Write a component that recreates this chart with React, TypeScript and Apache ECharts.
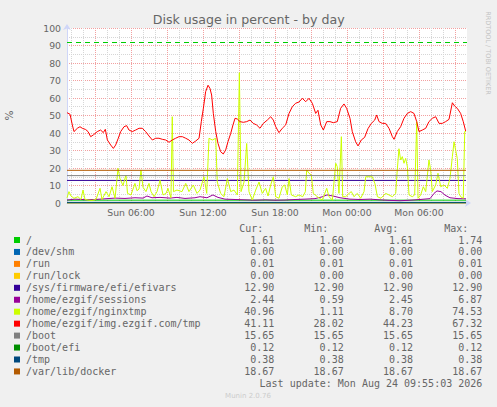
import React, { useEffect, useRef } from "react";
import * as echarts from "echarts";

const chartTitle = "Disk usage in percent - by day";
const xStart = 0.6667; // hours since Sun 00:00
const xEnd = 34;
const xDataEnd = 33.92;
const labelHours = [6, 12, 18, 24, 30];
const tickLabels = ["Sun 06:00", "Sun 12:00", "Sun 18:00", "Mon 00:00", "Mon 06:00"];
const majorHours = [3, 6, 9, 12, 15, 18, 21, 24, 27, 30, 33];
const minorHours = [1, 2, 4, 5, 7, 8, 10, 11, 13, 14, 16, 17, 19, 20, 22, 23, 25, 26, 28, 29, 31, 32];
const warningLevel = 92;

const names = [
  "/",
  "/dev/shm",
  "/run",
  "/run/lock",
  "/sys/firmware/efi/efivars",
  "/home/ezgif/sessions",
  "/home/ezgif/nginxtmp",
  "/home/ezgif/img.ezgif.com/tmp",
  "/boot",
  "/boot/efi",
  "/tmp",
  "/var/lib/docker",
];
const colors = [
  "#00CC00", "#0066B3", "#FF8000", "#FFCC00", "#330099", "#990099",
  "#CCFF00", "#FF0000", "#808080", "#008F00", "#00487D", "#B35A00",
];
const curValues = [1.61, 0.0, 0.01, 0.0, 12.9, 2.44, 40.96, 41.11, 15.65, 0.12, 0.38, 18.67];
const minValues = [1.6, 0.0, 0.01, 0.0, 12.9, 0.59, 1.11, 28.02, 15.65, 0.12, 0.38, 18.67];
const avgValues = [1.61, 0.0, 0.01, 0.0, 12.9, 2.45, 8.7, 44.23, 15.65, 0.12, 0.38, 18.67];
const maxValues = [1.74, 0.0, 0.01, 0.0, 12.9, 6.87, 74.53, 67.32, 15.65, 0.12, 0.38, 18.67];
const lastUpdate = "Last update: Mon Aug 24 09:55:03 2026";
const version = "Munin 2.0.76";
const watermark = "RRDTOOL / TOBI OETIKER";

// [hour, percent]
const sessionsPoints: [number, number][] = [
  [0.67, 1.7], [1.33, 2.2], [2.17, 1.9], [3.0, 2.0], [3.83, 2.4], [4.67, 2.8], [5.5, 2.6],
  [6.33, 3.0], [7.0, 2.8], [7.33, 4.0], [7.75, 3.0], [8.42, 3.2], [9.25, 2.8], [9.83, 3.2],
  [10.5, 2.6], [11.33, 3.0], [11.75, 3.6], [12.33, 3.0], [12.83, 4.6], [13.25, 3.2], [13.83, 2.2],
  [14.67, 2.0], [15.5, 1.8], [16.33, 1.6], [17.17, 1.8], [18.0, 1.6], [18.83, 1.7], [19.67, 2.0],
  [20.5, 2.2], [21.33, 2.5], [21.92, 3.5], [22.33, 4.6], [22.83, 4.0], [23.42, 3.0], [24.25, 2.2],
  [25.08, 2.0], [25.92, 2.2], [26.75, 1.8], [27.58, 1.5], [28.42, 1.3], [29.25, 1.6], [30.08, 2.0],
  [30.92, 2.5], [31.25, 5.5], [31.5, 6.9], [31.83, 6.5], [32.17, 4.5], [32.58, 3.0], [33.25, 2.5],
  [33.92, 2.4],
];

const nginxPoints: [number, number][] = [
  [0.67, 3], [0.83, 6.5], [1.0, 4], [1.25, 2.7], [1.58, 3.6], [1.83, 2], [2.0, 7.4], [2.17, 2],
  [2.42, 1.7], [2.75, 1.5], [3.08, 2], [3.42, 8.4], [3.58, 2], [3.92, 6.5], [4.17, 3.6], [4.42, 9.3],
  [4.67, 2.7], [4.92, 19.8], [5.08, 14], [5.33, 10], [5.58, 16], [5.71, 5.5], [6.0, 4.6], [6.33, 11.2],
  [6.5, 7], [6.67, 8], [6.83, 18.9], [7.0, 9], [7.25, 6.5], [7.5, 11.2], [7.67, 6.5], [7.92, 3.6],
  [8.17, 6.5], [8.42, 13], [8.67, 4.6], [8.92, 5.5], [9.08, 8.4], [9.33, 3], [9.44, 49.3], [9.54, 6.5],
  [9.83, 7.4], [10.25, 6.5], [10.56, 11.2], [10.83, 6.5], [11.19, 10.3], [11.5, 5.5], [11.75, 7.4],
  [12.08, 15], [12.31, 5.5], [12.5, 37], [12.78, 36], [13.06, 37], [13.19, 12], [13.47, 5.5],
  [13.75, 3.6], [14.03, 14], [14.31, 6.5], [14.58, 7.4], [14.86, 4.6], [15.03, 74.5], [15.17, 6.5],
  [15.42, 12], [15.64, 34], [15.83, 6.5], [16.11, 1.7], [16.39, 7.4], [16.67, 12], [16.94, 5.5],
  [17.22, 8.4], [17.42, 4], [17.64, 10.3], [17.86, 15], [18.06, 3.6], [18.33, 2.7], [18.61, 9.3],
  [18.81, 10.3], [19.03, 4.6], [19.17, 14], [19.36, 4.6], [19.72, 3.6], [20.0, 4.6], [20.31, 3.6],
  [20.53, 6.5], [20.64, 18.9], [20.83, 17], [21.03, 16], [21.19, 5.5], [21.53, 3.6], [21.94, 1.7],
  [22.31, 8.4], [22.5, 3.6], [22.78, 1.7], [23.06, 22.7], [23.19, 20.8], [23.33, 5.5], [23.53, 37.9],
  [23.64, 3.6], [23.89, 3.6], [24.17, 5.5], [24.36, 6.5], [24.58, 3.6], [24.86, 5.5], [25.14, 2.7],
  [25.42, 6.5], [25.56, 15], [25.83, 15], [26.11, 15], [26.33, 11], [26.53, 3.6], [26.83, 2.7],
  [27.22, 5.5], [27.5, 4.6], [27.78, 3.6], [28.06, 5.5], [28.19, 18.9], [28.33, 31], [28.47, 24.6],
  [28.61, 26.5], [28.75, 22.7], [28.89, 25.5], [29.03, 20.8], [29.17, 4.6], [29.44, 3.6], [29.64, 4.6],
  [29.81, 46.5], [29.92, 2.7], [30.14, 4.6], [30.36, 9.3], [30.56, 6.5], [30.83, 24.6], [30.97, 19],
  [31.11, 6.5], [31.39, 10.3], [31.58, 17], [31.81, 9.3], [32.08, 10.3], [32.36, 8.4], [32.58, 14],
  [32.78, 26.5], [32.92, 35], [33.06, 30], [33.19, 25.5], [33.33, 5.5], [33.47, 3.6], [33.69, 2.7],
  [33.81, 40.8], [33.92, 41],
];

const imgPoints: [number, number][] = [
  [0.67, 51.6], [0.92, 50.7], [1.11, 44.6], [1.25, 40.8], [1.53, 42.7], [1.75, 43.6], [1.94, 42.7],
  [2.22, 42], [2.42, 40.8], [2.64, 37.9], [2.86, 38.9], [3.19, 40.8], [3.47, 41.7], [3.69, 40.2],
  [3.86, 42.1], [4.03, 36], [4.31, 33.1], [4.53, 31.2], [4.72, 33.1], [4.94, 37], [5.14, 40.8],
  [5.42, 43.6], [5.64, 44.2], [5.83, 41.7], [6.11, 40.8], [6.39, 41.7], [6.67, 42.7], [6.94, 42.7],
  [7.22, 40.8], [7.5, 38.3], [7.78, 36], [8.06, 37], [8.33, 37], [8.61, 36.4], [8.89, 36],
  [9.17, 34.7], [9.44, 36], [9.72, 37], [10.0, 37.9], [10.28, 37.9], [10.56, 37], [10.83, 36],
  [11.11, 34.1], [11.39, 35.4], [11.67, 37], [11.86, 46.5], [12.03, 54.1], [12.22, 63.6], [12.42, 67.3],
  [12.58, 65.5], [12.72, 61.7], [12.86, 51.2], [13.06, 40.8], [13.25, 34.1], [13.47, 29.3], [13.69, 28.0],
  [13.89, 30.3], [14.08, 35], [14.31, 39.8], [14.5, 44.6], [14.67, 48.4], [14.86, 48], [15.08, 46.5],
  [15.36, 46.1], [15.64, 46.5], [15.92, 47.4], [16.19, 45.5], [16.47, 44.6], [16.75, 42.7], [17.03, 45.5],
  [17.36, 47.4], [17.64, 49.3], [17.86, 47.4], [18.06, 43.6], [18.33, 40.2], [18.61, 42.7], [18.89, 44.6],
  [19.17, 51.2], [19.44, 55], [19.72, 57], [20.0, 57.7], [20.28, 59.8], [20.56, 57.9], [20.83, 59.8],
  [21.11, 57], [21.39, 51.2], [21.58, 53], [21.81, 44.6], [22.03, 41.7], [22.31, 46.5], [22.58, 46.5],
  [22.86, 45.9], [23.19, 46.5], [23.47, 54.1], [23.75, 56.6], [23.97, 54.1], [24.25, 48.4], [24.44, 40.8],
  [24.72, 35], [24.92, 32.6], [25.19, 36], [25.47, 37.5], [25.75, 42.5], [26.03, 45.5], [26.31, 47.4],
  [26.47, 50.3], [26.67, 46.5], [26.94, 45.5], [27.22, 45.5], [27.5, 42.7], [27.78, 37.9], [27.92, 36.4],
  [28.19, 40.8], [28.47, 43.6], [28.75, 48.4], [29.03, 51.2], [29.31, 52.2], [29.58, 51.2], [29.81, 46.5],
  [30.0, 40.8], [30.28, 41.7], [30.56, 42.7], [30.83, 46.5], [31.11, 48.4], [31.39, 49.3], [31.67, 45.5],
  [31.94, 45.5], [32.22, 46.5], [32.5, 47.8], [32.78, 57.3], [32.97, 55.4], [33.19, 54.1], [33.47, 51.2],
  [33.69, 46.5], [33.89, 41.1],
];

const seriesPoints: Record<string, [number, number][]> = {
  "/home/ezgif/sessions": sessionsPoints,
  "/home/ezgif/nginxtmp": nginxPoints,
  "/home/ezgif/img.ezgif.com/tmp": imgPoints,
};

const FONT = "#666666";
const MONO = '"DejaVu Sans Mono", monospace';
const SANS = '"DejaVu Sans", sans-serif';

function rowY(i: number) {
  return 240 + i * 11.95;
}

function txt(text: string, x: number, y: number, align: string, font: string, fill = FONT, extra: any = {}) {
  return {
    type: "text",
    x,
    y,
    silent: true,
    ...extra,
    style: {
      text,
      font,
      fill,
      align,
      textAlign: align,
      verticalAlign: "middle",
      textVerticalAlign: "middle",
    },
  };
}

export default function App() {
  const ref = useRef<HTMLDivElement>(null);
  useEffect(() => {
    if (!ref.current) return;
    const chart = echarts.init(ref.current, undefined, { renderer: "svg" });

    const series: any[] = names.map((name, i) => {
      const pts = seriesPoints[name] || [
        [xStart, curValues[i]],
        [xDataEnd, curValues[i]],
      ];
      const s: any = {
        name,
        type: "line",
        data: pts,
        showSymbol: false,
        symbol: "none",
        lineStyle: { color: colors[i], width: 1 },
        itemStyle: { color: colors[i] },
        silent: true,
        z: 2 + i,
      };
      if (i === 0) {
        s.markLine = {
          silent: true,
          symbol: "none",
          label: { show: false },
          lineStyle: { color: "#00CC00", type: [5, 4], width: 1 },
          data: [{ yAxis: warningLevel }],
        };
      }
      return s;
    });

    const gridLine = (color: string) => ({ show: true, lineStyle: { color, type: [1, 1], width: 1 } });
    const axisLineStyle = {
      show: true,
      onZero: false,
      lineStyle: { color: "#CFD6F8", width: 1 },
      symbol: ["none", "arrow"],
      symbolSize: [6, 6],
      symbolOffset: [0, 4],
    };

    const graphic: any[] = [];
    graphic.push(txt(chartTitle, 248.7, 19, "center", `12.6px ${SANS}`, FONT));
    graphic.push(
      txt(watermark, 488, 53, "center", `6.5px ${SANS}`, "#c4c4c4", { rotation: -Math.PI / 2 })
    );
    const headerX = [239.3, 304.3, 374.3, 444.3];
    ["Cur:", "Min:", "Avg:", "Max:"].forEach((h, k) =>
      graphic.push(txt(h, headerX[k], rowY(-1), "left", `10px ${MONO}`))
    );
    const colRight = [274.3, 343.7, 413, 482.3];
    const cols = [curValues, minValues, avgValues, maxValues];
    names.forEach((name, i) => {
      const y = rowY(i);
      graphic.push({
        type: "rect",
        silent: true,
        shape: { x: 14, y: y - 3, width: 6, height: 6 },
        style: { fill: colors[i] },
      });
      graphic.push(txt(name, 26, y, "left", `10px ${MONO}`));
      cols.forEach((col, k) => graphic.push(txt(col[i].toFixed(2), colRight[k], y, "right", `10px ${MONO}`)));
    });
    graphic.push(txt(lastUpdate, 482.3, rowY(12), "right", `10px ${MONO}`));
    graphic.push(txt(version, 248, 396, "center", `7px ${SANS}`, "#cccccc"));

    chart.setOption({
      animation: false,
      backgroundColor: "#F0F0F0",
      grid: {
        left: 67,
        top: 28,
        width: 400,
        height: 175,
        show: true,
        backgroundColor: "#FFFFFF",
        borderWidth: 0,
        containLabel: false,
        outerBoundsMode: "none",
      },
      xAxis: [
        {
          type: "value",
          min: xStart,
          max: xEnd,
          position: "bottom",
          axisLine: axisLineStyle,
          axisTick: { show: false, customValues: majorHours },
          axisLabel: {
            customValues: labelHours,
            formatter: (v: number) => tickLabels[labelHours.indexOf(Math.round(v))] || "",
            color: FONT,
            fontSize: 9.3,
            fontFamily: SANS,
            margin: 5,
          },
          splitLine: gridLine("#F2A0A0"),
          z: 1,
        },
        {
          type: "value",
          min: xStart,
          max: xEnd,
          position: "top",
          axisLine: { show: false },
          axisTick: { show: false, customValues: minorHours },
          axisLabel: { show: false },
          splitLine: gridLine("#D6D6D6"),
          z: 0,
        },
      ],
      yAxis: {
        type: "value",
        min: 0,
        max: 100,
        interval: 10,
        axisLine: axisLineStyle,
        axisTick: { show: false },
        axisLabel: { color: FONT, fontSize: 9.3, fontFamily: SANS, margin: 6 },
        splitLine: gridLine("#F2A0A0"),
        minorTick: { show: false, splitNumber: 2 },
        minorSplitLine: gridLine("#D6D6D6"),
        name: "%",
        nameLocation: "middle",
        nameRotate: 90,
        nameGap: 53,
        nameTextStyle: { color: FONT, fontSize: 10.5, fontFamily: SANS },
      },
      series,
      graphic,
    });
    return () => chart.dispose();
  }, []);

  return (
    <div
      ref={ref}
      style={{ position: "absolute", left: 0, top: 0, width: 497, height: 407 }}
    />
  );
}
